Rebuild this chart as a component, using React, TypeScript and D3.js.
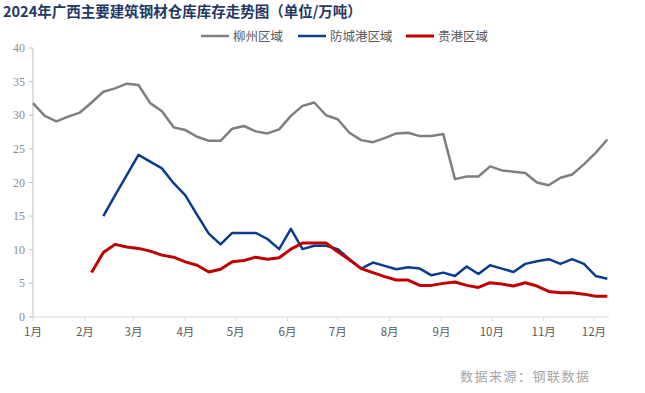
import { useCallback } from "react";
import * as d3 from "d3";

// weekly dates (2024)
const weeks = [
  "01-01", "01-08", "01-15", "01-22", "01-29",
  "02-05", "02-12", "02-19", "02-26",
  "03-04", "03-11", "03-18", "03-25",
  "04-01", "04-08", "04-15", "04-22", "04-29",
  "05-06", "05-13", "05-20", "05-27",
  "06-03", "06-10", "06-17", "06-24",
  "07-01", "07-08", "07-15", "07-22", "07-29",
  "08-05", "08-12", "08-19", "08-26",
  "09-02", "09-09", "09-16", "09-23", "09-30",
  "10-07", "10-14", "10-21", "10-28",
  "11-04", "11-11", "11-18", "11-25",
  "12-02", "12-09",
];

const liuzhou = [
  31.8, 29.9, 29.1, 29.8, 30.4, 31.9, 33.5, 34.0, 34.7, 34.5,
  31.8, 30.6, 28.2, 27.8, 26.8, 26.2, 26.2, 28.0, 28.4, 27.6,
  27.3, 27.9, 29.9, 31.4, 31.9, 30.0, 29.4, 27.4, 26.3, 26.0,
  26.6, 27.3, 27.4, 26.9, 26.9, 27.2, 20.5, 20.9, 20.9, 22.4,
  21.8, 21.6, 21.4, 20.0, 19.6, 20.7, 21.2, 22.7, 24.4, 26.4,
];

const fangchenggang = [
  null, null, null, null, null, null, 15.0, 18.1, 21.1, 24.1,
  23.1, 22.1, 19.9, 18.1, 15.2, 12.4, 10.8, 12.5, 12.5, 12.5,
  11.6, 10.1, 13.1, 10.1, 10.6, 10.6, 10.1, 8.6, 7.2, 8.1,
  7.6, 7.1, 7.4, 7.2, 6.2, 6.6, 6.1, 7.5, 6.4, 7.7,
  7.2, 6.7, 7.9, 8.3, 8.6, 7.9, 8.6, 7.9, 6.1, 5.7,
];

const guigang = [
  null, null, null, null, null, 6.6, 9.6, 10.8, 10.4, 10.2,
  9.8, 9.2, 8.9, 8.2, 7.7, 6.7, 7.1, 8.2, 8.4, 8.9,
  8.6, 8.8, 10.1, 11.0, 11.0, 11.0, 9.7, 8.5, 7.2, 6.6,
  6.0, 5.5, 5.5, 4.7, 4.7, 5.0, 5.2, 4.7, 4.4, 5.1,
  4.9, 4.6, 5.1, 4.6, 3.8, 3.6, 3.6, 3.4, 3.1, 3.1,
];

const seriesNames = ["柳州区域", "防城港区域", "贵港区域"];
const yTicks = [0, 5, 10, 15, 20, 25, 30, 35, 40];
const monthLabels = ["1月", "2月", "3月", "4月", "5月", "6月", "7月", "8月", "9月", "10月", "11月", "12月"];

const width = 645;
const height = 393;

const App = () => {
  const draw = useCallback((node: HTMLDivElement | null) => {
    if (!node) return;
    document.body.style.margin = "0";
    d3.select(node).selectAll("*").remove();

    const parse = d3.timeParse("%Y-%m-%d");
    const dates = weeks.map((w) => parse("2024-" + w) as Date);

    const x = d3.scaleTime()
      .domain([new Date(2024, 0, 1), new Date(2024, 11, 10)])
      .range([33, 609]);
    const y = d3.scaleLinear().domain([0, 40]).range([317, 48]);

    const svg = d3.select(node).append("svg")
      .attr("width", width)
      .attr("height", height)
      .style("display", "block")
      .style("background", "#fff");

    // title
    svg.append("text")
      .attr("x", 3)
      .attr("y", 17)
      .attr("font-family", "'Noto Sans CJK SC', sans-serif")
      .attr("font-weight", "bold")
      .attr("font-size", 14.5)
      .attr("fill", "#1f3864")
      .text("2024年广西主要建筑钢材仓库库存走势图（单位/万吨）");

    // y axis
    const yAxis = svg.append("g");
    yAxis.append("line")
      .attr("x1", 33).attr("x2", 33)
      .attr("y1", y(40)).attr("y2", y(0))
      .attr("stroke", "#bfbfbf");
    yAxis.selectAll("line.tick")
      .data(yTicks)
      .join("line")
      .attr("class", "tick")
      .attr("x1", 29).attr("x2", 33)
      .attr("y1", (d) => y(d)).attr("y2", (d) => y(d))
      .attr("stroke", "#bfbfbf");
    yAxis.selectAll("text")
      .data(yTicks)
      .join("text")
      .attr("x", 25)
      .attr("y", (d) => y(d) + 4)
      .attr("text-anchor", "end")
      .attr("font-family", "'Liberation Serif', serif")
      .attr("font-size", 12)
      .attr("fill", "#8c8c8c")
      .text((d) => d);

    // x axis
    const months = d3.timeMonth.range(new Date(2024, 0, 1), new Date(2024, 11, 2));
    const xAxis = svg.append("g");
    xAxis.append("line")
      .attr("x1", 33).attr("x2", 609)
      .attr("y1", y(0)).attr("y2", y(0))
      .attr("stroke", "#d9d9d9");
    xAxis.selectAll("line.tick")
      .data(months)
      .join("line")
      .attr("class", "tick")
      .attr("x1", (d) => x(d)).attr("x2", (d) => x(d))
      .attr("y1", y(0)).attr("y2", y(0) + 4)
      .attr("stroke", "#d9d9d9");
    xAxis.selectAll("text")
      .data(months)
      .join("text")
      .attr("x", (d) => x(d))
      .attr("y", 336)
      .attr("text-anchor", "middle")
      .attr("font-family", "'Noto Sans CJK SC', sans-serif")
      .attr("font-size", 11.5)
      .attr("fill", "#595959")
      .text((d, i) => monthLabels[i]);

    // lines
    const series = [
      { name: seriesNames[0], values: liuzhou, color: "#7f7f7f", w: 2.5 },
      { name: seriesNames[1], values: fangchenggang, color: "#0b3d8c", w: 2.5 },
      { name: seriesNames[2], values: guigang, color: "#c00000", w: 3 },
    ];

    const line = d3.line<number | null>()
      .defined((d) => d != null)
      .x((d, i) => x(dates[i]))
      .y((d) => y(d as number));

    svg.append("g")
      .selectAll("path")
      .data(series)
      .join("path")
      .attr("fill", "none")
      .attr("stroke", (d) => d.color)
      .attr("stroke-width", (d) => d.w)
      .attr("stroke-linejoin", "round")
      .attr("d", (d) => line(d.values));

    // legend
    const legendX = [201, 298, 406];
    const legend = svg.append("g")
      .selectAll("g")
      .data(series)
      .join("g")
      .attr("transform", (d, i) => `translate(${legendX[i]},36)`);
    legend.append("line")
      .attr("x1", 0).attr("x2", 28)
      .attr("stroke", (d) => d.color)
      .attr("stroke-width", (d) => d.w);
    legend.append("text")
      .attr("x", 32)
      .attr("y", 4.5)
      .attr("font-family", "'Noto Sans CJK SC', sans-serif")
      .attr("font-size", 12.5)
      .attr("fill", "#595959")
      .text((d) => d.name);

    // source
    svg.append("text")
      .attr("x", 460)
      .attr("y", 381)
      .attr("font-family", "'Noto Sans CJK SC', sans-serif")
      .attr("font-size", 13)
      .attr("letter-spacing", 1.5)
      .attr("fill", "#a6a6a6")
      .text("数据来源：钢联数据");
  }, []);

  return <div ref={draw}></div>;
};

export default App;
